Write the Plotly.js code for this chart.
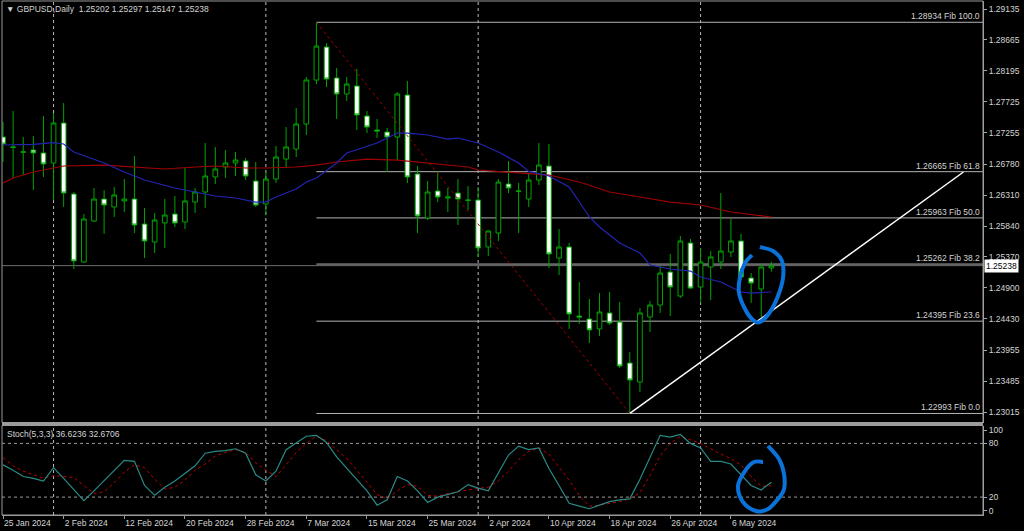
<!DOCTYPE html>
<html><head><meta charset="utf-8">
<script src="https://cdn.plot.ly/plotly-3.0.1.min.js"></script>
<style>html,body{margin:0;padding:0;background:#000;}#chart{width:1024px;height:531px;}</style>
</head><body><div id="chart"></div>
<script>
// ---------------- DATA ----------------
const dates = ["2024-01-25","2024-01-26","2024-01-29","2024-01-30","2024-01-31","2024-02-01","2024-02-02","2024-02-05","2024-02-06","2024-02-07","2024-02-08","2024-02-09","2024-02-12","2024-02-13","2024-02-14","2024-02-15","2024-02-16","2024-02-19","2024-02-20","2024-02-21","2024-02-22","2024-02-23","2024-02-26","2024-02-27","2024-02-28","2024-02-29","2024-03-01","2024-03-04","2024-03-05","2024-03-06","2024-03-07","2024-03-08","2024-03-11","2024-03-12","2024-03-13","2024-03-14","2024-03-15","2024-03-18","2024-03-19","2024-03-20","2024-03-21","2024-03-22","2024-03-25","2024-03-26","2024-03-27","2024-03-28","2024-03-29","2024-04-01","2024-04-02","2024-04-03","2024-04-04","2024-04-05","2024-04-08","2024-04-09","2024-04-10","2024-04-11","2024-04-12","2024-04-15","2024-04-16","2024-04-17","2024-04-18","2024-04-19","2024-04-22","2024-04-23","2024-04-24","2024-04-25","2024-04-26","2024-04-29","2024-04-30","2024-05-01","2024-05-02","2024-05-03","2024-05-06","2024-05-07","2024-05-08","2024-05-09","2024-05-10"];

const open  = [1.27191,1.27040,1.26960,1.26994,1.26949,1.26797,1.27404,1.26326,1.25293,1.25916,1.26250,1.26129,1.26220,1.26250,1.25870,1.25597,1.25886,1.26022,1.25901,1.26204,1.26356,1.26584,1.26736,1.26797,1.26827,1.26523,1.26174,1.26554,1.26857,1.27009,1.27389,1.28057,1.28558,1.28088,1.27845,1.27966,1.27510,1.27298,1.27267,1.27191,1.27829,1.26630,1.25962,1.26372,1.26265,1.26341,1.26235,1.26235,1.25521,1.25734,1.26478,1.26372,1.26250,1.26538,1.26751,1.25354,1.25521,1.24473,1.24428,1.24276,1.24519,1.24382,1.23760,1.23471,1.24458,1.24640,1.25141,1.24777,1.25582,1.24914,1.25217,1.25293,1.25445,1.25612,1.25050,1.24883,1.25202];
const high  = [1.27419,1.27586,1.27191,1.27207,1.27510,1.27556,1.27708,1.26356,1.26022,1.26417,1.26387,1.26432,1.26554,1.26903,1.26113,1.26037,1.26250,1.26296,1.26721,1.26417,1.27100,1.27040,1.26994,1.26964,1.26873,1.26812,1.26660,1.27055,1.27343,1.27632,1.28103,1.28934,1.28619,1.28239,1.28103,1.28224,1.27586,1.27465,1.27328,1.27875,1.28042,1.26751,1.26523,1.26675,1.26417,1.26554,1.26447,1.26432,1.25779,1.26554,1.26827,1.26493,1.26645,1.27100,1.27085,1.25794,1.25582,1.24990,1.24731,1.24822,1.24838,1.24686,1.23926,1.24595,1.24701,1.25233,1.25415,1.25688,1.25643,1.25506,1.25460,1.26341,1.25946,1.25719,1.25126,1.25263,1.25297];
const low   = [1.26812,1.26569,1.26614,1.26387,1.26584,1.26235,1.26129,1.25187,1.25278,1.25901,1.25719,1.25977,1.26053,1.25734,1.25354,1.25430,1.25506,1.25825,1.25794,1.26037,1.26113,1.26478,1.26569,1.26599,1.26538,1.26129,1.26007,1.26493,1.26721,1.26888,1.27222,1.27996,1.27951,1.27465,1.27738,1.27298,1.27252,1.27176,1.26660,1.26842,1.26493,1.25734,1.25931,1.26204,1.26053,1.25855,1.26083,1.25369,1.25384,1.25612,1.26341,1.25734,1.26129,1.26463,1.25202,1.25096,1.24276,1.24352,1.24063,1.24170,1.24337,1.23684,1.22993,1.23319,1.24230,1.24519,1.24473,1.24747,1.24883,1.24671,1.24716,1.25187,1.25369,1.25020,1.24671,1.24458,1.25147];
const close = [1.27085,1.27035,1.26966,1.26949,1.26782,1.27404,1.26341,1.25309,1.25946,1.26250,1.26159,1.26311,1.26250,1.25855,1.25612,1.25931,1.26007,1.25886,1.26220,1.26356,1.26599,1.26706,1.26797,1.26842,1.26599,1.26159,1.26554,1.26888,1.27040,1.27389,1.28057,1.28573,1.28072,1.27845,1.27996,1.27526,1.27343,1.27283,1.27191,1.27845,1.26584,1.25992,1.26356,1.26280,1.26280,1.26250,1.26230,1.25506,1.25764,1.26508,1.26417,1.26368,1.26538,1.26766,1.25415,1.25521,1.24504,1.24458,1.24261,1.24534,1.24367,1.23714,1.23501,1.24519,1.24640,1.25126,1.24914,1.25612,1.24898,1.25293,1.25369,1.25460,1.25612,1.25066,1.24974,1.25217,1.25238];

// moving averages (bar index, price)
const maBlueIdx = [0,3,5,6,7,10,12,14,17,20,21,23,25,26,27,29,30,31,33,34,37,39,40,42,44,45,47,49,51,52,54,56,58,59,61,63,64,66,68,69,71,73,74,76];
const maBlueVal = [1.27070,1.27080,1.27105,1.27085,1.26964,1.26797,1.26660,1.26539,1.26417,1.26326,1.26296,1.26265,1.26204,1.26204,1.26280,1.26402,1.26508,1.26569,1.26797,1.26949,1.27100,1.27252,1.27252,1.27222,1.27161,1.27176,1.27100,1.26964,1.26797,1.26670,1.26600,1.26432,1.25977,1.25825,1.25582,1.25430,1.25248,1.25187,1.25156,1.25066,1.24990,1.24838,1.24822,1.24838];
const maRedIdx = [0,1,3,6,10,13,16,19,21,24,26,29,31,33,34,36,39,42,46,47,51,54,57,60,63,66,69,72,76];
const maRedVal = [1.26493,1.26569,1.26660,1.26751,1.26766,1.26736,1.26706,1.26736,1.26751,1.26721,1.26721,1.26736,1.26766,1.26812,1.26827,1.26857,1.26842,1.26797,1.26736,1.26690,1.26645,1.26614,1.26508,1.26356,1.26280,1.26204,1.26159,1.26053,1.25977];

// stochastic (5,3,3)
const stochMain   = [56,50,43,41,38,53,41,28,16,27,38,50,61,60,33,22,31,38,46,55,69,71,72,74,69,45,38,49,73,81,88,89,81,65,52,40,27,11,17,43,38,27,14,20,23,26,34,30,27,47,67,77,73,75,52,33,13,10,7,11,15,17,18,40,65,89,87,90,80,75,60,60,57,45,33,28,36.62];
const stochSignal = [64,55,49,45,41,44,43,42,33,24,26,36,48,56,53,40,29,31,39,50,57,66,70,73,70,58,50,43,56,70,80,88,83,73,63,50,36,23,18,27,34,32,22,21,24,26,28,30,31,38,49,62,71,75,68,53,39,22,10,11,13,15,18,25,44,66,80,88,84,80,74,68,63,56,43,32,32.67];

// axis ticks
const priceTicks = [1.29135,1.28665,1.28195,1.27725,1.27255,1.26780,1.26310,1.25840,1.25370,1.24900,1.24430,1.23955,1.23485,1.23015];
const tickDates  = ["2024-01-25","2024-02-02","2024-02-12","2024-02-20","2024-02-28","2024-03-07","2024-03-15","2024-03-25","2024-04-02","2024-04-10","2024-04-18","2024-04-26","2024-05-06"];
const tickLabels = ["25 Jan 2024","2 Feb 2024","12 Feb 2024","20 Feb 2024","28 Feb 2024","7 Mar 2024","15 Mar 2024","25 Mar 2024","2 Apr 2024","10 Apr 2024","18 Apr 2024","26 Apr 2024","6 May 2024"];
const stochTicks = [94.5,80,20,5];
const stochTickText = ["100","80","20","0"];

// Fibonacci retracement
const fibPct   = ["0.0","23.6","38.2","50.0","61.8","100.0"];
const fibPrice = [1.22993,1.24395,1.25262,1.25963,1.26665,1.28934];
const fibHighDate = "2024-03-08";
const fibLowDate  = "2024-04-22";
// trend line (from swing low, extended)
const trendPrice = [1.22993, 1.26660];
const trendEndBar = 95;
const lastPrice = 1.25238;
const header = "GBPUSD,Daily  1.25202 1.25297 1.25147 1.25238";
const stochHeader = "Stoch(5,3,3) 36.6236 32.6706";

// ---------------- LAYOUT GEOMETRY ----------------
const W = 1024, H = 531, L = 2, R = 41, T = 1, B = 16;
const plotW = W - L - R, plotH = H - T - B;
const barPx = 10.11, firstBarPx = 1;
const xRange = [-firstBarPx / barPx, (plotW - firstBarPx) / barPx];
const plotBottom = H - B;
const mainDomain = [(plotBottom - 422.5) / plotH, 1];
const stochDomain = [0, (plotBottom - 425.5) / plotH];
const priceRange = [1.22856, 1.29257];

const xi = dates.map((d, i) => i);
const idx = d => dates.indexOf(d);
const monthStarts = dates.map((d, i) => i).filter(i => i > 0 && dates[i].slice(5, 7) !== dates[i - 1].slice(5, 7));

const green = '#00a400';
const fontFam = '"Liberation Sans", Arial, sans-serif';
const txtCol = '#d4d4d4';
const fsz = 8.5;

function px2paper(p) { return [(p[0] - L) / plotW, (plotBottom - p[1]) / plotH]; }
function smoothPath(pts) {
  const P = pts.map(px2paper);
  let d = 'M' + P[0][0] + ',' + P[0][1];
  for (let i = 0; i < P.length - 1; i++) {
    const p0 = P[Math.max(i - 1, 0)], p1 = P[i], p2 = P[i + 1], p3 = P[Math.min(i + 2, P.length - 1)];
    const c1 = [p1[0] + (p2[0] - p0[0]) / 6, p1[1] + (p2[1] - p0[1]) / 6];
    const c2 = [p2[0] - (p3[0] - p1[0]) / 6, p2[1] - (p3[1] - p1[1]) / 6];
    d += ' C' + c1[0] + ',' + c1[1] + ' ' + c2[0] + ',' + c2[1] + ' ' + p2[0] + ',' + p2[1];
  }
  return d;
}
// hand-drawn blue marks (pixel outlines)
const loopMain = [[760,247],[773,251],[782,261],[783,278],[778,296],[770,312],[760,322],[753,320],[745,309],[739,293],[740,277],[745,263],[752,255]];
const loopStoch = [[763,462],[754,462],[745,471],[738,486],[743,502],[756,511],[768,509],[778,499],[784,489],[784,474],[779,459],[768,446]];

// ---------------- TRACES ----------------
const traces = [
  {
    type: 'candlestick', x: xi, open: open, high: high, low: low, close: close,
    xaxis: 'x', yaxis: 'y', whiskerwidth: 0, hoverinfo: 'skip',
    increasing: {line: {color: green, width: 1}, fillcolor: '#000000'},
    decreasing: {line: {color: green, width: 1}, fillcolor: '#ffffff'}
  },
  {type: 'scatter', mode: 'lines', x: maRedIdx, y: maRedVal, xaxis: 'x', yaxis: 'y',
   line: {color: '#a00000', width: 1.2}, hoverinfo: 'skip'},
  {type: 'scatter', mode: 'lines', x: maBlueIdx, y: maBlueVal, xaxis: 'x', yaxis: 'y',
   line: {color: '#2424b4', width: 1.2}, hoverinfo: 'skip'},
  {type: 'scatter', mode: 'lines', x: xi, y: stochSignal, xaxis: 'x', yaxis: 'y2',
   line: {color: '#c00000', width: 1, dash: 'dot'}, hoverinfo: 'skip'},
  {type: 'scatter', mode: 'lines', x: xi, y: stochMain, xaxis: 'x', yaxis: 'y2',
   line: {color: '#2a8a86', width: 1.2}, hoverinfo: 'skip'}
];

// ---------------- SHAPES ----------------
const shapes = [];
monthStarts.forEach(i => shapes.push({type: 'line', xref: 'x', yref: 'paper', x0: i, x1: i, y0: 0, y1: 1,
  line: {color: '#b8b8b8', width: 1, dash: 'dot'}, layer: 'below'}));
[80, 20].forEach(v => shapes.push({type: 'line', xref: 'paper', yref: 'y2', x0: 0, x1: 1, y0: v, y1: v,
  line: {color: '#9a9a9a', width: 1, dash: 'dot'}, layer: 'below'}));
// current price line
shapes.push({type: 'line', xref: 'paper', yref: 'y', x0: 0, x1: 1, y0: lastPrice, y1: lastPrice,
  line: {color: '#6e6e6e', width: 1}, layer: 'below'});
// fib levels
fibPrice.forEach(p => shapes.push({type: 'line', xref: 'x', yref: 'y', x0: idx(fibHighDate), x1: xRange[1], y0: p, y1: p,
  line: {color: '#b4b4b4', width: 1}, layer: 'below'}));
// fib diagonal
shapes.push({type: 'line', xref: 'x', yref: 'y', x0: idx(fibHighDate), y0: fibPrice[5], x1: idx(fibLowDate), y1: fibPrice[0],
  line: {color: '#a00000', width: 1, dash: 'dot'}});
// trendline
shapes.push({type: 'line', xref: 'x', yref: 'y', x0: idx(fibLowDate), y0: trendPrice[0], x1: trendEndBar, y1: trendPrice[1],
  line: {color: '#ffffff', width: 1.5}});
// frames
shapes.push({type: 'rect', xref: 'paper', yref: 'paper', x0: 0, x1: 1, y0: mainDomain[0], y1: 1, line: {color: '#9a9a9a', width: 1}});
shapes.push({type: 'rect', xref: 'paper', yref: 'paper', x0: 0, x1: 1, y0: 0, y1: stochDomain[1], line: {color: '#9a9a9a', width: 1}});
shapes.push({type: 'rect', xref: 'paper', yref: 'paper', x0: 0, x1: 1, y0: stochDomain[1], y1: mainDomain[0], fillcolor: '#9c9c9c', line: {width: 0}});
// hand-drawn loops
shapes.push({type: 'path', xref: 'paper', yref: 'paper', path: smoothPath(loopMain), line: {color: '#0a72d8', width: 4}});
shapes.push({type: 'path', xref: 'paper', yref: 'paper', path: smoothPath(loopStoch), line: {color: '#0a72d8', width: 4}});

// ---------------- ANNOTATIONS ----------------
const ann = [];
ann.push({xref: 'paper', yref: 'paper', x: 0, y: 1, xanchor: 'left', yanchor: 'top', xshift: 2, yshift: -1,
  text: '\u25BC ' + header, showarrow: false, font: {family: fontFam, size: fsz, color: txtCol}});
ann.push({xref: 'paper', yref: 'paper', x: 0, y: stochDomain[1], xanchor: 'left', yanchor: 'top', xshift: 3, yshift: -1,
  text: stochHeader, showarrow: false, font: {family: fontFam, size: fsz, color: txtCol}});
fibPrice.forEach((p, k) => ann.push({xref: 'paper', yref: 'y', x: 1, y: p, xanchor: 'right', yanchor: 'bottom', xshift: -1, yshift: -1,
  text: p.toFixed(5) + ' Fib ' + fibPct[k], showarrow: false, font: {family: fontFam, size: fsz, color: txtCol}}));
ann.push({xref: 'paper', yref: 'y', x: 1, y: lastPrice, xanchor: 'left', yanchor: 'middle', xshift: 1,
  text: lastPrice.toFixed(5), showarrow: false, bgcolor: '#ffffff', borderpad: 1,
  font: {family: fontFam, size: fsz, color: '#000000'}});

// ---------------- LAYOUT ----------------
const layout = {
  width: W, height: H, margin: {l: L, r: R, t: T, b: B, pad: 0},
  paper_bgcolor: '#000000', plot_bgcolor: '#000000', showlegend: false,
  font: {family: fontFam, size: fsz, color: txtCol},
  boxgap: 0.34,
  xaxis: {domain: [0, 1], anchor: 'y2', range: xRange, showgrid: false, zeroline: false,
    showline: true, linecolor: '#9a9a9a', ticks: 'outside', ticklen: 3, tickcolor: '#9a9a9a',
    tickvals: tickDates.map(idx), ticktext: tickLabels, ticklabelposition: 'outside right',
    rangeslider: {visible: false}, automargin: false, fixedrange: true,
    tickfont: {family: fontFam, size: fsz, color: txtCol}},
  yaxis: {domain: mainDomain, anchor: 'x', side: 'right', range: priceRange, showgrid: false, zeroline: false,
    showline: true, linecolor: '#a8a8a8', ticks: 'outside', ticklen: 3, tickcolor: '#a8a8a8',
    tickvals: priceTicks, ticktext: priceTicks.map(v => v.toFixed(5)), automargin: false, fixedrange: true,
    tickfont: {family: fontFam, size: fsz, color: txtCol}},
  yaxis2: {domain: stochDomain, anchor: 'x', side: 'right', range: [0, 100], showgrid: false, zeroline: false,
    showline: true, linecolor: '#a8a8a8', ticks: 'outside', ticklen: 3, tickcolor: '#a8a8a8',
    tickvals: stochTicks, ticktext: stochTickText, automargin: false, fixedrange: true,
    tickfont: {family: fontFam, size: fsz, color: txtCol}},
  shapes: shapes, annotations: ann
};

Plotly.newPlot('chart', traces, layout, {displayModeBar: false, staticPlot: true});
</script></body></html>
